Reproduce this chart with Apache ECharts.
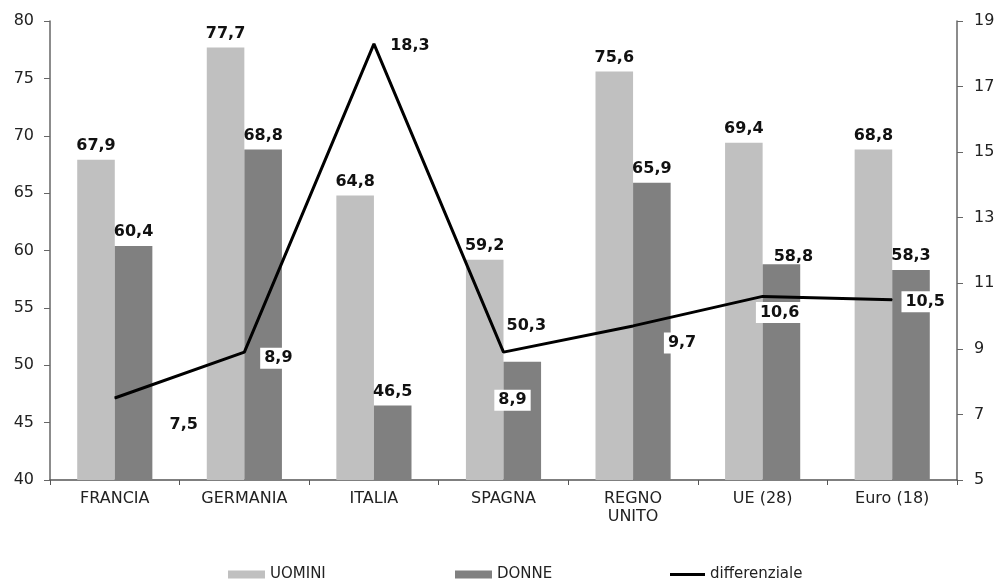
<!DOCTYPE html>
<html>
<head>
<meta charset="utf-8">
<script src="https://cdn.jsdelivr.net/npm/echarts@6/dist/echarts.min.js"></script>
<style>
  html, body { margin: 0; padding: 0; background: #fff; }
  #chart { width: 998px; height: 582px; }
</style>
</head>
<body>
<div id="chart"></div>
<script>
// Tasso di occupazione per genere e differenziale
const categories = ['FRANCIA', 'GERMANIA', 'ITALIA', 'SPAGNA', 'REGNO\nUNITO', 'UE (28)', 'Euro (18)'];
const uomini = [67.9, 77.7, 64.8, 59.2, 75.6, 69.4, 68.8];
const donne = [60.4, 68.8, 46.5, 50.3, 65.9, 58.8, 58.3];
const differenziale = [7.5, 8.9, 18.3, 8.9, 9.7, 10.6, 10.5];

// label placement for the line values (pixel offsets from each point)
const diffLabelOffsets = [[69, 27], [34, 6], [36, 2], [9, 48], [49, 17], [17, 16], [33, 2]];
// shifts for bar labels that would collide with the line
const donneLabelOffsets = [[0, 0], [0, 0], [0, 0], [4, -22], [0, 0], [12, 7], [0, 0]];

const fmt = v => String(v).replace('.', ',');
const font = 'DejaVu Sans, Verdana, sans-serif';

const chart = echarts.init(document.getElementById('chart'));

const barLabel = {
  show: true,
  position: 'top',
  distance: 6,
  fontFamily: font,
  fontSize: 16,
  fontWeight: 'bold',
  color: '#111',
  formatter: p => fmt(p.value)
};

const legendText = { fontFamily: font, fontSize: 15, color: '#222' };

chart.setOption({
  animation: false,
  backgroundColor: '#fff',
  grid: { left: 50, right: 41, top: 21, bottom: 102, containLabel: false },
  legend: [
    {
      data: ['UOMINI'], left: 228, top: 567, padding: 0, itemWidth: 37, itemHeight: 8, itemGap: 4,
      icon: 'rect', textStyle: legendText
    },
    {
      data: ['DONNE'], left: 455, top: 567, padding: 0, itemWidth: 37, itemHeight: 8, itemGap: 4,
      icon: 'rect', textStyle: legendText
    },
    {
      data: [{ name: 'differenziale', icon: 'rect', itemStyle: { color: '#000' } }],
      left: 670, top: 567, padding: 0, itemWidth: 35, itemHeight: 3, itemGap: 3,
      textStyle: legendText
    }
  ],
  xAxis: {
    type: 'category',
    data: categories,
    axisLine: { lineStyle: { color: '#555', width: 1.5 } },
    axisTick: { show: true, length: 5, lineStyle: { color: '#555' } },
    axisLabel: { fontFamily: font, fontSize: 16, color: '#222', margin: 10, lineHeight: 18 }
  },
  yAxis: [
    {
      type: 'value', min: 40, max: 80, interval: 5,
      splitLine: { show: false },
      axisLine: { show: true, lineStyle: { color: '#666', width: 1.5 } },
      axisTick: { show: true, length: 6, lineStyle: { color: '#666' } },
      axisLabel: { fontFamily: font, fontSize: 16, color: '#222', margin: 16 }
    },
    {
      type: 'value', min: 5, max: 19, interval: 2,
      splitLine: { show: false },
      axisLine: { show: true, lineStyle: { color: '#666', width: 1.5 } },
      axisTick: { show: true, length: 6, lineStyle: { color: '#666' } },
      axisLabel: { fontFamily: font, fontSize: 16, color: '#222', margin: 17 }
    }
  ],
  series: [
    {
      name: 'UOMINI',
      type: 'bar',
      data: uomini,
      barGap: '0%',
      barCategoryGap: '42%',
      itemStyle: { color: '#c0c0c0' },
      label: barLabel
    },
    {
      name: 'DONNE',
      type: 'bar',
      data: donne.map((v, i) => ({ value: v, label: { offset: donneLabelOffsets[i] } })),
      itemStyle: { color: '#808080' },
      label: barLabel
    },
    {
      name: 'differenziale',
      type: 'line',
      yAxisIndex: 1,
      z: 5,
      symbol: 'circle',
      symbolSize: 1,
      showSymbol: true,
      lineStyle: { color: '#000', width: 3 },
      itemStyle: { color: '#000' },
      data: differenziale.map((v, i) => ({
        value: v,
        label: { offset: diffLabelOffsets[i] }
      })),
      label: {
        show: true,
        position: 'inside',
        fontFamily: font,
        fontSize: 16,
        fontWeight: 'bold',
        color: '#111',
        backgroundColor: '#fff',
        padding: [3, 4, 2, 4],
        formatter: p => fmt(p.value)
      }
    }
  ]
});
</script>
</body>
</html>
